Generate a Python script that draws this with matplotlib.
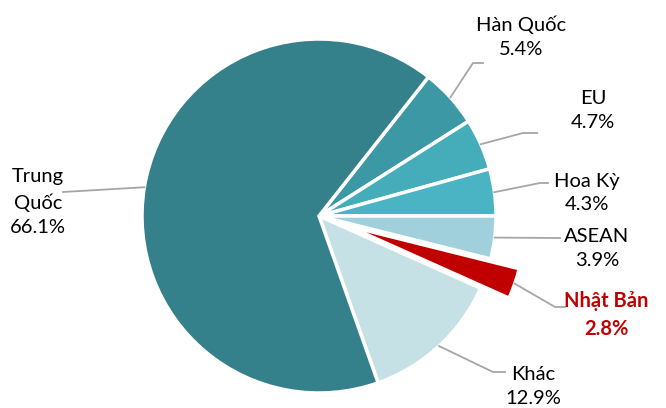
import numpy as np
import matplotlib.pyplot as plt

plt.rcParams["font.family"] = ["Lato", "DejaVu Sans"]

# Data
labels = ["Hàn Quốc", "EU", "Hoa Kỳ", "ASEAN", "Nhật Bản", "Khác", "Trung Quốc"]
shares = [5.4, 4.7, 4.3, 3.9, 2.8, 12.9, 66.1]
colors = ["#3D98A5", "#45ADBA", "#4AB4C4", "#A0D0DB", "#C00000", "#C5E1E6", "#35818B"]
explode = [0, 0, 0, 0, 0.17, 0, 0]
label_text = ["Hàn Quốc\n5.4%", "EU\n4.7%", "Hoa Kỳ\n4.3%", "ASEAN\n3.9%",
              "Nhật Bản\n2.8%", "Khác\n12.9%", "Trung\nQuốc\n66.1%"]

# layout in pixel coords (y down), pie centre and radius
W, H = 666, 408
CX, CY, R = 319, 216, 177
text_pos = [(521, 37), (593, 111), (587, 193), (597, 248), (606, 315), (533, 387), (38, 202)]
elbows = [[(473, 63), (483, 63)], [(523, 133), (537, 133)], [(540, 183), (548, 183)],
          [(560, 238)], [(555, 307), (565, 307)], [(493, 372), (505, 372)], [(63, 192)]]


def px(x, y):
    return (x - CX) / R, (CY - y) / R


fig = plt.figure(figsize=(W / 100, H / 100), dpi=100)
ax = fig.add_axes([0, 0, 1, 1])

start = 360 * sum(shares[:3]) / sum(shares)
wedges, _ = ax.pie(shares, colors=colors, explode=explode, startangle=start,
                   counterclock=False, radius=1,
                   wedgeprops=dict(edgecolor="white", linewidth=2.5))

ax.set_xlim(*sorted([px(0, 0)[0], px(W, 0)[0]]))
ax.set_ylim(px(0, H)[1], px(0, 0)[1])
ax.set_aspect("equal")
ax.axis("off")

for w, txt, tp, el, expl in zip(wedges, label_text, text_pos, elbows, explode):
    mid = np.deg2rad((w.theta1 + w.theta2) / 2)
    r0 = 1 + expl
    pts = [(r0 * np.cos(mid), r0 * np.sin(mid))] + [px(*p) for p in el]
    xs, ys = zip(*pts)
    ax.plot(xs, ys, color="#A6A6A6", lw=1.3, zorder=1)
    red = txt.startswith("Nhật")
    ax.text(*px(*tp), txt, ha="center", va="center", fontsize=14.5,
            linespacing=1.5, color="#C00000" if red else "black",
            fontweight="bold" if red else "normal")

fig.savefig("out.png", dpi=100)
